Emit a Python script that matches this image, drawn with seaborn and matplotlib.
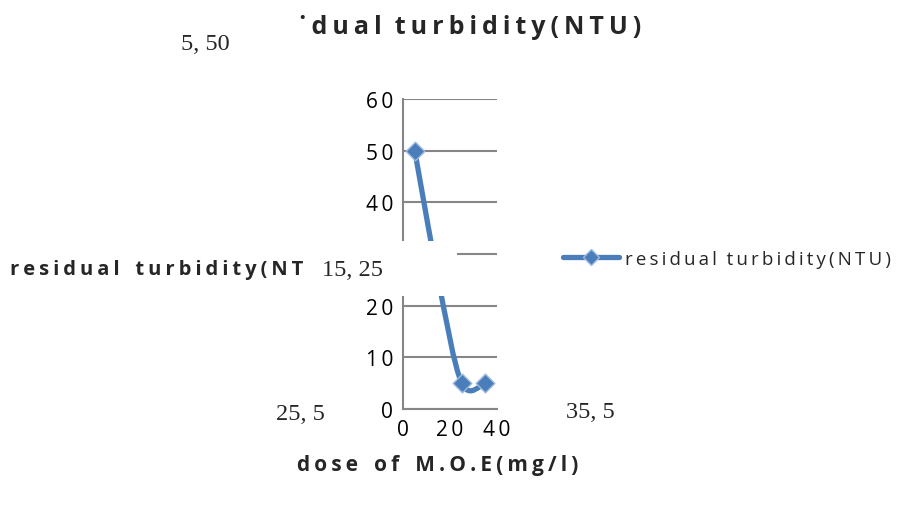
import matplotlib
matplotlib.use("Agg")
import matplotlib.pyplot as plt
import seaborn as sns
import numpy as np
import pandas as pd
from matplotlib.path import Path
from matplotlib.patches import PathPatch, Rectangle
from matplotlib.lines import Line2D

# ---- data ----
dose = [5, 15, 25, 35]
turbidity = [50, 25, 5, 5]
x_ticks = [0, 20, 40]
y_ticks = [0, 10, 20, 30, 40, 50, 60]
series_name = "residual turbidity(NTU)"
title_text = "˙dual turbidity(NTU)"
ylabel_text = "residual turbidity(NT"
xlabel_text = "dose of M.O.E(mg/l)"

df = pd.DataFrame({"dose": dose, "turb": turbidity})

sns.set_theme(style="white")
plt.rcParams["font.family"] = ["Open Sans", "DejaVu Sans"]

BLUE = "#4A7EBB"
GRID = "#868686"


def spaced(s, sep="\u2009", wsep="   "):
    words = s.split(" ")
    return wsep.join(sep.join(list(w)) for w in words)


fig = plt.figure(figsize=(8.98, 5.06), dpi=100)
W, H = 898, 506
ax = fig.add_axes([403 / W, 1 - 410 / H, 94 / W, 310 / H])

# smoothed line (Excel-style Bezier through the data points)
P = np.column_stack([dose, turbidity]).astype(float)
n = len(P)
verts = [tuple(P[0])]
codes = [Path.MOVETO]
for i in range(n - 1):
    p0 = P[i - 1] if i > 0 else P[i]
    p1 = P[i]
    p2 = P[i + 1]
    p3 = P[i + 2] if i + 2 < n else P[i + 1]
    c1 = p1 + (p2 - p0) / 6.0
    c2 = p2 - (p3 - p1) / 6.0
    verts += [tuple(c1), tuple(c2), tuple(p2)]
    codes += [Path.CURVE4] * 3
ax.add_patch(PathPatch(Path(verts, codes), facecolor="none", edgecolor=BLUE,
                       lw=3.8, capstyle="butt", joinstyle="round", zorder=3))

sns.scatterplot(data=df, x="dose", y="turb", marker="D", s=90, color=BLUE,
                edgecolor="#9DB9DE", linewidth=1.0, ax=ax, zorder=4, legend=False)

ax.set_xlim(0, 40)
ax.set_ylim(0, 60)
ax.set_xticks(x_ticks)
ax.set_yticks(y_ticks)
ax.set_xticklabels([spaced(str(t)) for t in x_ticks], fontsize=15)
ax.set_yticklabels([spaced(str(t)) for t in y_ticks], fontsize=15)
ax.tick_params(axis="both", length=0, pad=7, colors="black")
# the "30" label sits under the white data-label box in the reference
for lbl, t in zip(ax.get_yticklabels(), y_ticks):
    if t == 30:
        lbl.set_visible(False)
ax.set_xlabel("")
ax.set_ylabel("")
ax.yaxis.grid(True, color=GRID, lw=1.5)
ax.xaxis.grid(False)
for s in ["top", "right"]:
    ax.spines[s].set_visible(False)
for s in ["left", "bottom"]:
    ax.spines[s].set_color(GRID)
    ax.spines[s].set_linewidth(1.5)

# titles / labels
fig.text(299 / W, 1 - 28 / H, spaced(title_text, sep="\u2009", wsep="  "), ha="left",
         va="center", fontsize=18, fontweight="bold")
fig.text(10 / W, 1 - 270 / H, spaced(ylabel_text, sep="\u2009", wsep="   "), ha="left",
         va="center", fontsize=14.5, fontweight="bold")
fig.text(297 / W, 1 - 466 / H, spaced(xlabel_text, sep="\u2009", wsep="   "),
         ha="left", va="center", fontsize=15, fontweight="bold")

# white label box covering part of the plot
fig.add_artist(Rectangle((310 / W, 1 - 297 / H), 147 / W, 55 / H,
                         transform=fig.transFigure, facecolor="white",
                         edgecolor="none", zorder=10))

# data labels
label_pos = [(205, 45), (352, 270), (300, 415), (590, 413)]
for (xv, yv), (px, py) in zip(zip(dose, turbidity), label_pos):
    fig.text(px / W, 1 - py / H, f"{xv}, {yv}", ha="center", va="center",
             fontsize=17.5, family=["Liberation Serif"], zorder=11)

# legend
handle = Line2D([], [], color=BLUE, lw=3.8, marker="D", markersize=8,
                markerfacecolor=BLUE, markeredgecolor="#9DB9DE")
fig.legend([handle], [spaced(series_name, sep="\u2009", wsep="  ")], loc="center left",
           bbox_to_anchor=(546 / W, 1 - 260 / H), frameon=False, fontsize=13.5,
           handlelength=3.0, handletextpad=0.3)

fig.savefig("out.png", dpi=100)
